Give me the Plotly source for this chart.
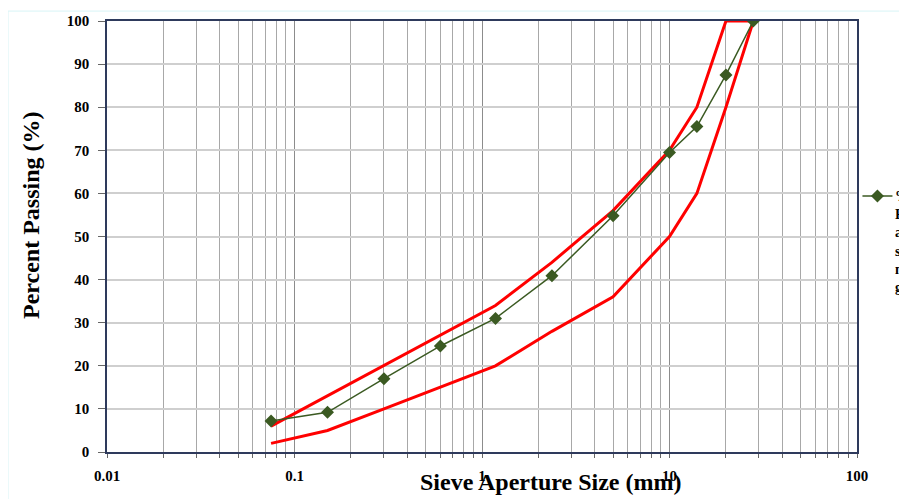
import plotly.graph_objects as go

sieve = [0.075, 0.15, 0.3, 0.6, 1.18, 2.36, 5, 10, 14, 20, 28]
passing = [7.2, 9.2, 17.0, 24.6, 31.0, 40.9, 54.8, 69.5, 75.5, 87.5, 100]
upper = [6, 13, 20, 27, 34, 44, 56, 70, 80, 100, 100]
lower = [2, 5, 10, 15, 20, 28, 36, 50, 60, 80, 100]
xticks = [0.01, 0.1, 1, 10, 100]
xticklabels = ["0.01", "0.1", "1", "10", "100"]
yticks = list(range(0, 101, 10))
minor_x = [m * d for d in [0.01, 0.1, 1, 10] for m in range(2, 10)]
legend_text = "%<br>Passing<br>aggregate<br>sample<br>mix<br>gradation"

FONT = "Liberation Serif, Times New Roman, serif"
RED = "#ff0000"
GREEN = "#3b5a22"

fig = go.Figure()
fig.add_trace(go.Scatter(x=sieve, y=upper, mode="lines",
                         line=dict(color=RED, width=3), showlegend=False))
fig.add_trace(go.Scatter(x=sieve, y=lower, mode="lines",
                         line=dict(color=RED, width=3), showlegend=False))
fig.add_trace(go.Scatter(x=sieve, y=passing, mode="lines+markers",
                         name=" ",
                         line=dict(color=GREEN, width=1.5),
                         marker=dict(symbol="diamond", size=10, color=GREEN)))

fig.update_layout(
    width=899, height=491,
    margin=dict(l=99, r=50, t=13, b=47, autoexpand=False),
    paper_bgcolor="white", plot_bgcolor="white",
    font=dict(family=FONT, color="black"),
    showlegend=True,
    legend=dict(x=1.0006, xanchor="left", y=0.63, yanchor="top", valign="top",
                font=dict(family=FONT, size=14, color="black", weight="bold"),
                bgcolor="rgba(0,0,0,0)", tracegroupgap=0),
    xaxis=dict(type="log", range=[-2, 2],
               tickvals=xticks, ticktext=xticklabels,
               tickfont=dict(family=FONT, size=15, weight="bold"),
               showgrid=True, gridcolor="#8c8c8c", gridwidth=1,
               minor=dict(tickvals=minor_x, showgrid=True, gridcolor="#a8a8a8",
                          gridwidth=1, ticks="outside", ticklen=4,
                          tickcolor="#666"),
               showline=True, linecolor="#2e3a5c", linewidth=1.5, mirror=True,
               ticks="outside", ticklen=4, tickcolor="#666",
               ticklabelstandoff=5, zeroline=False),
    yaxis=dict(range=[0, 100], tickvals=yticks,
               tickfont=dict(family=FONT, size=15, weight="bold"),
               showgrid=True, gridcolor="#cfcfcf", gridwidth=2,
               showline=True, linecolor="#2e3a5c", linewidth=1.5, mirror=True,
               ticks="outside", ticklen=7, tickcolor="#666",
               ticklabelstandoff=6, zeroline=False),
)

fig.add_annotation(text="Sieve Aperture Size (mm)", xref="paper", yref="paper",
                   x=0.5915, y=0, yshift=-30, xanchor="center", yanchor="middle",
                   showarrow=False,
                   font=dict(family=FONT, size=24, color="black", weight="bold"))
fig.add_annotation(text="Percent Passing (%)", xref="paper", yref="paper",
                   x=-0.1013, y=0.55, xanchor="center", yanchor="middle",
                   textangle=-90, showarrow=False,
                   font=dict(family=FONT, size=24, color="black", weight="bold"))
# legend entry text (runs off the right edge, as in the original)
fig.add_annotation(text=legend_text, xref="paper", yref="paper",
                   x=1.0493, y=0.6125, xanchor="left", yanchor="top",
                   align="left", showarrow=False, borderpad=0,
                   font=dict(family=FONT, size=14, color="black", weight="bold"))

# faint outer chart border
fig.add_shape(type="rect", xref="paper", yref="paper",
              x0=-0.132, x1=1.2, y0=-0.2, y1=1.023,
              line=dict(color="#d8f4f6", width=1))

fig.write_html("out.html")
